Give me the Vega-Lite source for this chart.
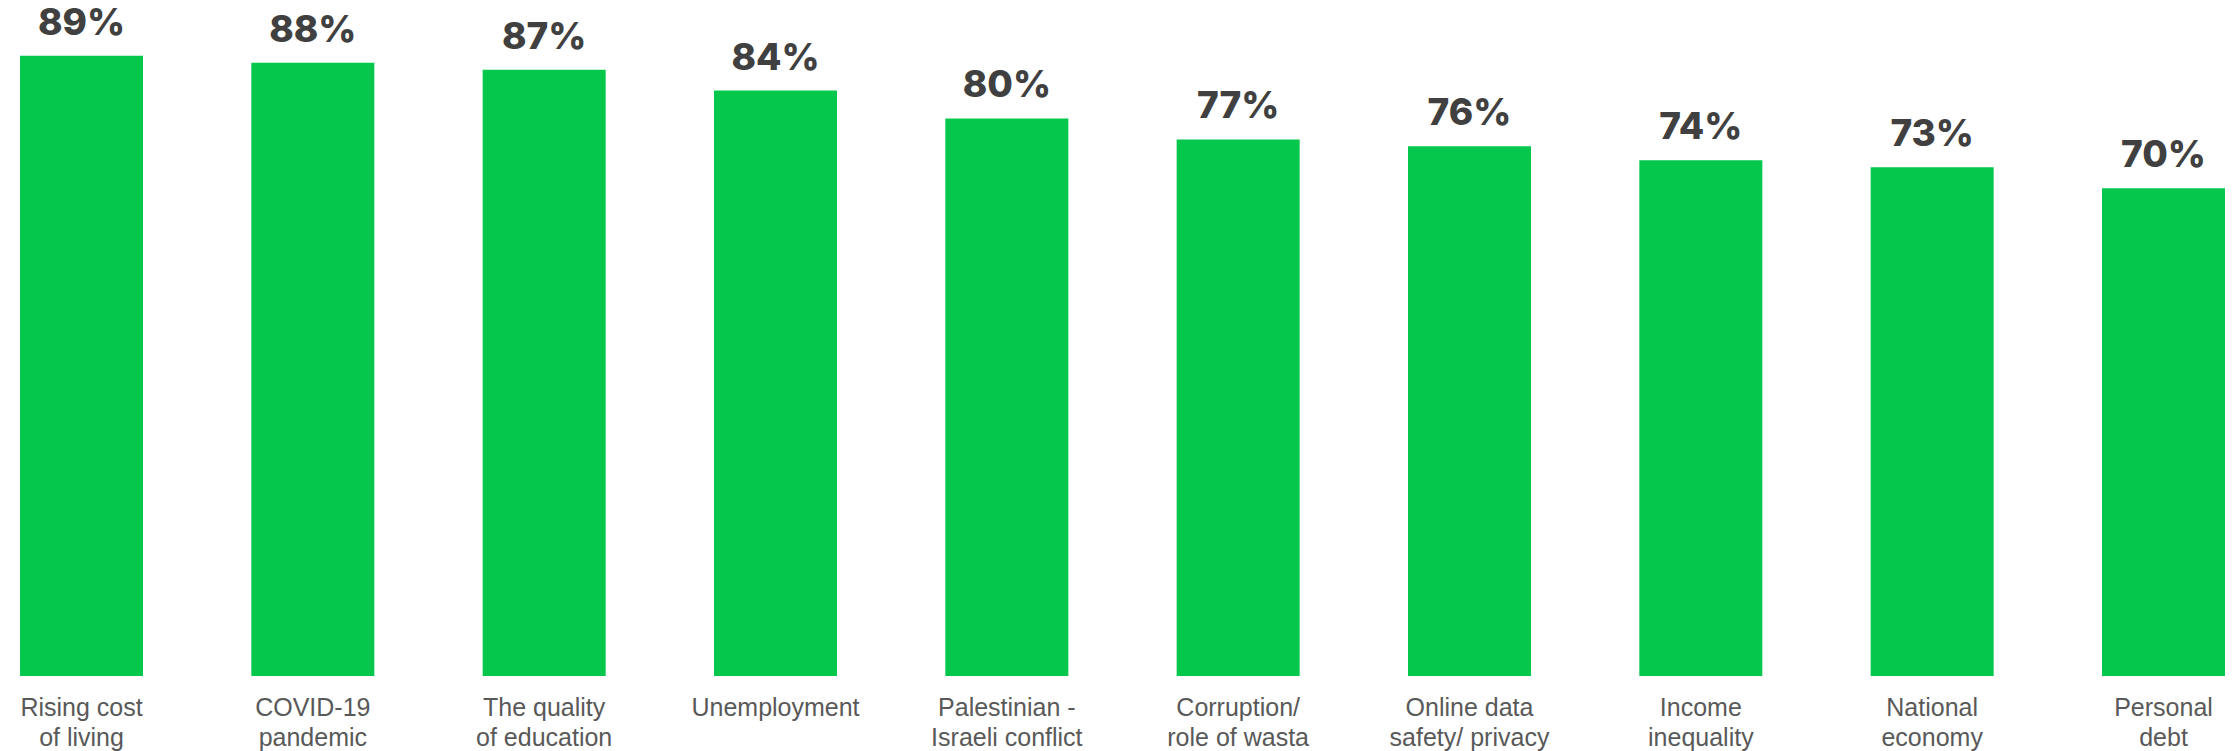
{
  "$schema": "https://vega.github.io/schema/vega-lite/v6.json",
  "autosize": "none",
  "width": 2239,
  "height": 676,
  "padding": {"left": 3, "top": 0, "right": 0, "bottom": 75},
  "background": "white",
  "config": {"view": {"stroke": null}},
  "data": {
    "values": [
      {"issue": "Rising cost|of living", "value": 0.89},
      {"issue": "COVID-19|pandemic", "value": 0.88},
      {"issue": "The quality|of education", "value": 0.87},
      {"issue": "Unemployment", "value": 0.84},
      {"issue": "Palestinian -|Israeli conflict", "value": 0.80},
      {"issue": "Corruption/|role of wasta", "value": 0.77},
      {"issue": "Online data|safety/ privacy", "value": 0.76},
      {"issue": "Income|inequality", "value": 0.74},
      {"issue": "National|economy", "value": 0.73},
      {"issue": "Personal|debt", "value": 0.70}
    ]
  },
  "encoding": {
    "x": {
      "field": "issue",
      "type": "nominal",
      "sort": null,
      "scale": {"paddingInner": 0.4683, "paddingOuter": 0.0735},
      "axis": {
        "title": null,
        "labelAngle": 0,
        "labelExpr": "split(datum.label, '|')",
        "labelFont": "Liberation Sans",
        "labelFontSize": 25,
        "labelColor": "#595959",
        "labelLineHeight": 30,
        "labelBaseline": "alphabetic",
        "labelPadding": 39,
        "labelLimit": 400,
        "ticks": false,
        "tickSize": 0,
        "domain": false,
        "grid": false
      }
    },
    "y": {
      "field": "value",
      "type": "quantitative",
      "scale": {"domain": [0, 0.97], "nice": false, "zero": true},
      "axis": null
    }
  },
  "layer": [
    {"mark": {"type": "bar", "color": "#05C74C"}},
    {
      "mark": {
        "type": "text",
        "baseline": "alphabetic",
        "align": "center",
        "dy": -21,
        "font": "Inter",
        "fontWeight": 800,
        "fontSize": 37,
        "color": "#404040"
      },
      "encoding": {"text": {"field": "value", "type": "quantitative", "format": ".0%"}}
    }
  ]
}
